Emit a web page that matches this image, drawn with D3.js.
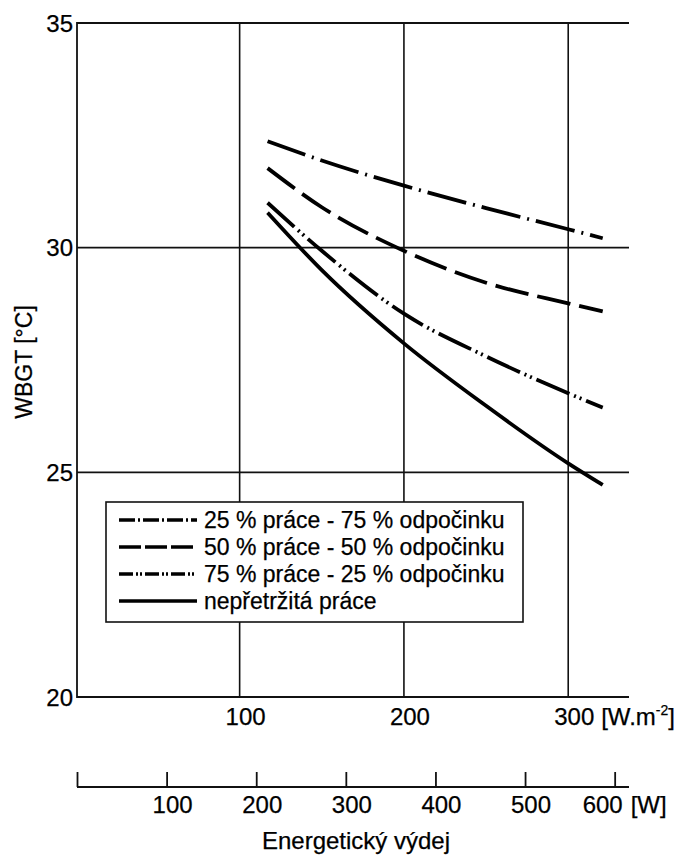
<!DOCTYPE html>
<html>
<head>
<meta charset="utf-8">
<script src="https://cdn.jsdelivr.net/npm/d3@7"></script>
<style>
  html, body { margin: 0; padding: 0; background: #fff; }
  svg { display: block; font-family: "Liberation Sans", Arial, Helvetica, sans-serif; }
  text { fill: #000; stroke: #000; stroke-width: 0.25px; }
</style>
</head>
<body>
<svg id="chart" width="681" height="860"></svg>
<script>
// ---------- data ----------
const energy = [117, 150, 200, 250, 300, 321];           // W.m-2
const s25 = [32.37, 31.94, 31.38, 30.88, 30.41, 30.21];   // 25 % práce - 75 % odpočinku
const s50 = [31.77, 30.90, 29.93, 29.22, 28.76, 28.58];   // 50 % práce - 50 % odpočinku
const s75 = [31.00, 29.93, 28.53, 27.58, 26.76, 26.44];   // 75 % práce - 25 % odpočinku
const sCont = [30.78, 29.50, 27.87, 26.48, 25.20, 24.72]; // nepřetržitá práce
const seriesNames = ["25 % práce - 75 % odpočinku", "50 % práce - 50 % odpočinku",
                     "75 % práce - 25 % odpočinku", "nepřetržitá práce"];
const yTicks = [20, 25, 30, 35];
const xTicks = [100, 200, 300];
const wTicks = [100, 200, 300, 400, 500, 600];

const dashes = ["40,7,2,7", "34,9", "36,5,2,4,2,5", null];
const series = [s25, s50, s75, sCont].map((vals, i) => ({
  name: seriesNames[i], dash: dashes[i],
  pts: energy.map((e, j) => ({ x: e, y: vals[j] }))
}));

// ---------- scales ----------
const L = 77, R = 629, T = 23, B = 697;
const x = d3.scaleLinear().domain([1, 337]).range([L, R]);
const y = d3.scaleLinear().domain([20, 35]).range([B, T]);
const w = d3.scaleLinear().domain([0, 616]).range([L, R]);

const svg = d3.select("#chart");
const FS = 24;

// grid
const g = svg.append("g");
g.selectAll("line.v").data(xTicks).join("line")
  .attr("x1", d => x(d)).attr("x2", d => x(d)).attr("y1", T).attr("y2", B)
  .attr("stroke", "#111").attr("stroke-width", 1.6);
g.selectAll("line.h").data([25, 30]).join("line")
  .attr("x1", L).attr("x2", R).attr("y1", d => y(d)).attr("y2", d => y(d))
  .attr("stroke", "#111").attr("stroke-width", 1.6);
// frame (left, top, bottom)
g.append("path").attr("d", `M${R},${T}H${L}V${B}H${R}`)
  .attr("fill", "none").attr("stroke", "#111").attr("stroke-width", 1.8);

// y tick labels
svg.append("g").selectAll("text").data(yTicks).join("text")
  .attr("x", L - 4).attr("y", d => y(d)).attr("dy", "0.36em")
  .attr("text-anchor", "end").attr("font-size", FS).text(d => d);

// x tick labels (W.m-2)
const xl = svg.append("g");
xl.selectAll("text").data(xTicks).join("text")
  .attr("x", d => x(d) + 6).attr("y", 725)
  .attr("text-anchor", "middle").attr("font-size", FS).text(d => d);
const unit = xl.append("text").attr("x", x(300) + 33).attr("y", 725).attr("font-size", FS);
unit.append("tspan").text("[W.m");
unit.append("tspan").attr("font-size", 14).attr("dy", -10).text("-2");
unit.append("tspan").attr("dy", 10).text("]");

// lines
const line = d3.line().x(d => x(d.x)).y(d => y(d.y)).curve(d3.curveMonotoneX);
svg.append("g").selectAll("path").data(series).join("path")
  .attr("d", d => line(d.pts))
  .attr("fill", "none").attr("stroke", "#000").attr("stroke-width", 3.8)
  .attr("stroke-dasharray", d => d.dash);

// legend
const lg = svg.append("g");
lg.append("rect").attr("x", 106).attr("y", 502).attr("width", 417).attr("height", 120)
  .attr("fill", "#fff").attr("stroke", "#111").attr("stroke-width", 1.6);
const legDash = ["16,3,2,3,16,3,2,3", "22,4", "14,3,2,2,2,3", null];
series.forEach((s, i) => {
  const yy = 520 + i * 27;
  lg.append("line").attr("x1", 119).attr("x2", 197).attr("y1", yy).attr("y2", yy)
    .attr("stroke", "#000").attr("stroke-width", 3.5).attr("stroke-dasharray", legDash[i]);
  lg.append("text").attr("x", 204).attr("y", yy).attr("dy", "0.36em")
    .attr("font-size", 23).text(s.name);
});

// y axis title
svg.append("text").attr("transform", `translate(32,362) rotate(-90)`)
  .attr("text-anchor", "middle").attr("font-size", 23).text("WBGT [°C]");

// second axis (W)
const wAxis = d3.axisTop(w).tickValues([0].concat(wTicks)).tickSize(15).tickFormat("");
const wg = svg.append("g").attr("transform", "translate(0,787)").call(wAxis);
wg.select(".domain").attr("d", `M${L},0H${R}`).attr("stroke", "#111").attr("stroke-width", 1.8);
wg.selectAll(".tick line").attr("stroke", "#111").attr("stroke-width", 1.8);
svg.append("g").selectAll("text").data(wTicks).join("text")
  .attr("x", d => w(d) + (d === 600 ? -12 : 6)).attr("y", 813)
  .attr("text-anchor", "middle").attr("font-size", FS).text(d => d);
svg.append("text").attr("x", w(600) + 16).attr("y", 813).attr("font-size", FS).text("[W]");

// x axis title
svg.append("text").attr("x", 356).attr("y", 849).attr("text-anchor", "middle")
  .attr("font-size", 24).text("Energetický výdej");
</script>
</body>
</html>
